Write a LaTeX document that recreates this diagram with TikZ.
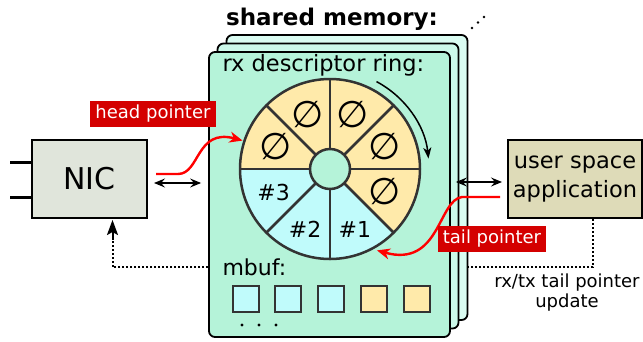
\documentclass[tikz,border=0pt]{standalone}
\usepackage{fontspec}
\setmainfont{DejaVu Sans}
\usetikzlibrary{arrows.meta,calc}
\definecolor{mint}{HTML}{B5F3D9}
\definecolor{mintb}{HTML}{CCF9EA}
\definecolor{mintc}{HTML}{DAFCF2}
\definecolor{ylw}{HTML}{FFEAAA}
\definecolor{cyn}{HTML}{C0FBFB}
\definecolor{nicgray}{HTML}{E0E5DB}
\definecolor{appbeige}{HTML}{DEDBB8}
\definecolor{ptrred}{HTML}{D40000}
\definecolor{ringgray}{HTML}{333333}
\begin{document}
\begin{tikzpicture}[x=1pt,y=-1pt,
  card/.style={draw=black, line width=1.8pt, rounded corners=6pt, minimum width=241pt, minimum height=285pt, inner sep=0pt},
  box/.style={draw=black, line width=2pt, inner sep=0pt, align=center},
  ptrlabel/.style={fill=ptrred, text=white, font=\fontsize{18}{21}\selectfont, inner xsep=5pt, inner ysep=0pt, minimum height=26pt},
  ptr/.style={draw=red, line width=2.4pt, -{Stealth[length=13pt,width=11pt,inset=4pt]}},
  dbl/.style={{Stealth[length=11pt,width=9pt,inset=4pt]}-{Stealth[length=11pt,width=9pt,inset=4pt]}, line width=1.3pt},
  dotline/.style={line width=2pt, dash pattern=on 2pt off 2pt},
  slot/.style={draw=ringgray, line width=2pt, minimum size=26pt, inner sep=0pt},
  ringline/.style={draw=ringgray, line width=2.5pt},
  sect/.style={font=\fontsize{22}{26}\selectfont},
  empt/.style={font=\fontsize{37}{40}\selectfont, inner sep=0pt},
  dotmark/.style={fill=black, draw=none}
]
\useasboundingbox (0,0) rectangle (643,341);

% title
\node[font=\fontsize{23}{26}\selectfont\bfseries] (title) at (332,19) {shared memory:};
\fill[dotmark] (472,28) circle[radius=1.4pt] (478,22.5) circle[radius=1.4pt] (484,17) circle[radius=1.4pt];

% cards
\node[card, fill=mintc] (card3) at (347,177.5) {};
\node[card, fill=mintb] (card2) at (338,186) {};
\node[card, fill=mint] (card1) at (329.5,194.5) {};

\node[anchor=base west, font=\fontsize{22.5}{26}\selectfont] (rxlabel) at (219,71.5) {rx descriptor ring:};
\node[anchor=base west, font=\fontsize{22}{26}\selectfont] (mbuflabel) at (219,275) {mbuf:};

% ring
\begin{scope}[shift={(330,169)}, yscale=-1]
  \foreach \a/\c in {0/ylw,45/ylw,90/ylw,135/ylw,180/cyn,225/cyn,270/cyn,315/ylw} {
    \fill[\c] (0,0) -- (\a:90) arc[start angle=\a, end angle=\a+45, radius=90] -- cycle;
  }
  \foreach \a in {0,45,90,135,315} {
    \node[empt] at (\a+22.5:59) {∅};
  }
  \node[sect] (s3) at (202.5:61) {\#3};
  \node[sect] (s2) at (247.5:65) {\#2};
  \node[sect] (s1) at (292.5:65) {\#1};
  \foreach \a in {0,45,...,315} {
    \draw[ringline] (\a:20) -- (\a:90);
  }
  \draw[ringline] (0,0) circle[radius=90];
  \filldraw[ringline, fill=mint] (0,0) circle[radius=20];
  \draw[line width=1.5pt, -{Stealth[length=11pt,width=8pt,inset=3pt]}] (62:99) arc[start angle=62, end angle=6, radius=99];
  \coordinate (hp) at (162:92);
  \coordinate (tp) at (300:94);
\end{scope}

% mbuf slots
\node[slot, fill=cyn] (m1) at (245.5,299) {};
\node[slot, fill=cyn] (m2) at (288,299) {};
\node[slot, fill=cyn] (m3) at (331,299) {};
\node[slot, fill=ylw] (m4) at (374,299) {};
\node[slot, fill=ylw] (m5) at (417,299) {};
\fill[dotmark] (242,325) circle[radius=1.6pt] (259,325) circle[radius=1.6pt] (276,325) circle[radius=1.6pt];

% NIC
\node[box, fill=nicgray, minimum width=115pt, minimum height=78pt, font=\fontsize{30}{32}\selectfont] (nic) at (89.5,179) {NIC};
\coordinate (st1) at (10,162);
\coordinate (st2) at (10,197);
\draw[line width=3pt] (st1) -- (st1 -| nic.west);
\draw[line width=3pt] (st2) -- (st2 -| nic.west);

% app
\node[box, fill=appbeige, minimum width=134pt, minimum height=78pt, font=\fontsize{22.5}{29}\selectfont] (app) at (575,179) {user space\\application};

% double arrows
\draw[dbl] ($(nic.east)+(6,4)$) -- ($(card1.west |- nic.east)+(-7,4)$);
\draw[dbl] ($(card1.east |- app.west)+(5,3)$) -- ($(app.west)+(-5,3)$);

% dotted
\draw[dotline] (card1.west |- 0,267) -| ($(nic.south)+(23,20)$);
\draw[line width=2pt, -{Stealth[length=15pt,width=11pt,inset=3pt]}] ($(nic.south)+(23,21)$) -- ($(nic.south)+(23,1)$);
\draw[dotline] ($(app.south)+(18,0)$) |- (card3.east |- 0,267);
\node[font=\fontsize{18}{20}\selectfont, align=center] (upd) at (567,293) {rx/tx tail pointer\\update};

% pointers
\coordinate (hs) at (156,174);
\coordinate (ts) at (500,197);
\draw[ptr] (hs) -- (178,174) .. controls (200,174) and (196,128) .. (hp);
\draw[ptr] (ts) -- (462,197) .. controls (438,200) and (440,268) .. (tp);
\node[ptrlabel] (hpl) at (153,113.5) {head pointer};
\node[ptrlabel] (tpl) at (492,239) {tail pointer};
\end{tikzpicture}
\end{document}
